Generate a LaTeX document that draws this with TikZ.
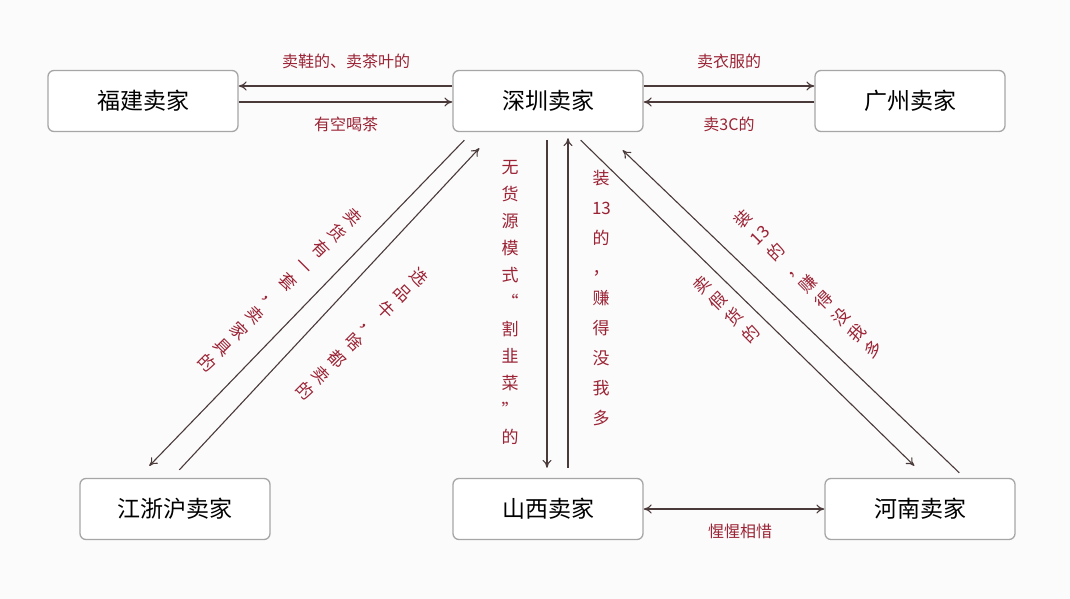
\documentclass[tikz,border=0pt]{standalone}
\usepackage{fontspec}
\setmainfont{Noto Sans CJK SC}
\usetikzlibrary{arrows.meta,positioning}
\definecolor{linecol}{HTML}{4A3A3A}
\definecolor{labcol}{HTML}{9B2335}
\tikzset{
  seller/.style={draw=gray!70,rounded corners=6pt,line width=1.3pt,minimum width=190pt,minimum height=61pt,font=\fontsize{23}{26}\selectfont,fill=white},
  link/.style={draw=linecol,line width=1.1pt,-{To[length=8pt,width=9pt]}},
  lab/.style={text=labcol,font=\fontsize{16}{18}\selectfont},
  vlab/.style={lab,align=center,text width=18pt,font=\fontsize{17}{27}\selectfont,inner sep=0pt},
  dlab/.style={vlab,font=\fontsize{17}{23}\selectfont}
}
\begin{document}
\begin{tikzpicture}[x=1pt,y=-1pt]
\useasboundingbox[fill=white!97!gray] (0,0) rectangle (1070,599);
% sellers
\node[seller] (fj) at (143,101) {福建卖家};
\node[seller] (sz) at (548,101) {深圳卖家};
\node[seller] (gz) at (910,101) {广州卖家};
\node[seller] (jzh) at (175,509) {江浙沪卖家};
\node[seller] (sx) at (548,509) {山西卖家};
\node[seller] (hn) at (920,509) {河南卖家};
% top row
\draw[link] ([yshift=15pt]sz.west) -- ([yshift=15pt]fj.east);
\draw[link] ([yshift=-1pt]fj.east) -- ([yshift=-1pt]sz.west);
\node[lab] at (346,61) {卖鞋的、卖茶叶的};
\node[lab] at (346,124) {有空喝茶};
\draw[link] ([yshift=15pt]sz.east) -- ([yshift=15pt]gz.west);
\draw[link] ([yshift=-1pt]gz.west) -- ([yshift=-1pt]sz.east);
\node[lab] at (729,61) {卖衣服的};
\node[lab] at (729,124) {卖3C的};
% middle
\draw[link] ([xshift=-1pt,yshift=-8pt]sz.south) -- ([xshift=-1pt,yshift=10pt]sx.north);
\draw[link] ([xshift=20pt,yshift=10pt]sx.north) -- ([xshift=20pt,yshift=-6pt]sz.south);
\node[vlab] at (510,302) {无\\货\\源\\模\\式\\“\\割\\韭\\菜\\”\\的};
\node[vlab,font=\fontsize{17}{30}\selectfont] at (601,298) {装\\13\\的\\，\\赚\\得\\没\\我\\多};
% left diagonals
\draw[link] ([shift={(12,8)}]sz.south west) -- ([shift={(70,-12)}]jzh.north west);
\draw[link] ([shift={(100,-8)}]jzh.north west) -- ([shift={(27,16)}]sz.south west);
\node[dlab,rotate=-45] at (280,290) {卖\\货\\有\\一\\套\\，\\卖\\家\\具\\的};
\node[dlab,rotate=-45] at (362,334) {选\\品\\牛\\，\\啥\\都\\卖\\的};
% right diagonals
\draw[link] ([shift={(-63,8)}]sz.south east) -- ([shift={(90,-12)}]hn.north west);
\draw[link] ([shift={(135,-5)}]hn.north west) -- ([shift={(-21,18)}]sz.south east);
\node[dlab,rotate=45] at (808,284) {装\\13\\的\\，\\赚\\得\\没\\我\\多};
\node[dlab,rotate=45] at (726,309) {卖\\假\\货\\的};
% bottom
\draw[link,{To[length=8pt,width=9pt]}-{To[length=8pt,width=9pt]}] (sx.east) -- (hn.west);
\node[lab] at (740,531) {惺惺相惜};
\end{tikzpicture}
\end{document}
